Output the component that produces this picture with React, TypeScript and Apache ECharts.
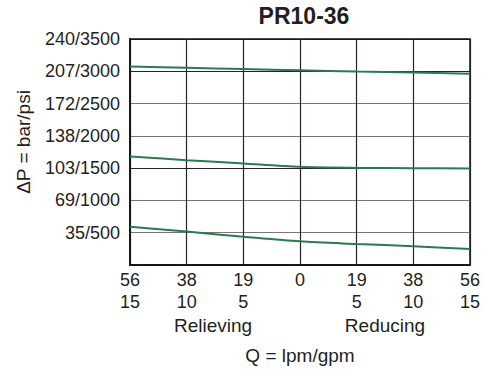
import React, { useEffect, useRef } from "react";
import * as echarts from "echarts";

const gpmTicks = [-15, -10, -5, 0, 5, 10, 15];
const lpmLabels = ["56", "38", "19", "0", "19", "38", "56"];
const gpmLabels = ["15", "10", "5", "", "5", "10", "15"];
const psiTicks = [0, 500, 1000, 1500, 2000, 2500, 3000, 3500];
const barLabels = ["", "35", "69", "103", "138", "172", "207", "240"];

const highSetting = [3075, 3055, 3035, 3015, 2995, 2980, 2962];
const midSetting = [1680, 1624, 1571, 1520, 1504, 1500, 1494];
const lowSetting = [594, 517, 439, 367, 326, 290, 248];

const FONT = "'Liberation Sans', Arial, Helvetica, sans-serif";
const GREEN = "#2b7a50";
const INK = "#231f20";

export default function App() {
  const ref = useRef<HTMLDivElement>(null);
  useEffect(() => {
    if (!ref.current) return;
    const chart = echarts.init(ref.current, null, { renderer: "svg" });
    const mk = (vals: number[]) => gpmTicks.map((x, i) => [x, vals[i]]);
    const series = [highSetting, midSetting, lowSetting].map((v) => ({
      type: "line",
      data: mk(v),
      smooth: 0.3,
      showSymbol: false,
      lineStyle: { color: GREEN, width: 2 },
    }));
    const txt = (text: string, x: number, y: number, size: number, extra: any = {}) => ({
      type: "text",
      x,
      y,
      ...extra,
      style: {
        text,
        font: `${extra.bold ? "bold " : ""}${size}px ${FONT}`,
        fill: INK,
        textAlign: "center",
        textVerticalAlign: "middle",
      },
    });
    chart.setOption({
      animation: false,
      textStyle: { fontFamily: FONT },
      grid: {
        left: 130,
        right: 12,
        top: 39,
        bottom: 104,
        show: true,
        borderColor: "#1a1414",
        borderWidth: 1.5,
      },
      xAxis: {
        type: "value",
        min: -15,
        max: 15,
        interval: 5,
        axisLine: { show: true, onZero: false, lineStyle: { color: "#1a1414", width: 2 } },
        axisTick: { show: false },
        splitLine: { show: true, lineStyle: { color: "#2a2222", width: 1.2 } },
        axisLabel: {
          color: INK,
          fontFamily: FONT,
          fontSize: 18,
          lineHeight: 22,
          margin: 4,
          formatter: (v: number) => {
            const i = gpmTicks.indexOf(v);
            if (i < 0) return "";
            return lpmLabels[i] + "\n" + (gpmLabels[i] || " ");
          },
        },
      },
      yAxis: {
        type: "value",
        min: 0,
        max: 3500,
        interval: 500,
        axisLine: { show: true, onZero: false, lineStyle: { color: "#1a1414", width: 2 } },
        axisTick: { show: false },
        splitLine: {
          show: true,
          lineStyle: {
            color: ["#1a1414", "#7a7575", "#7a7575", "#2a2222", "#7a7575", "#7a7575", "#2a2222", "#1a1414"],
            width: 1.2,
          },
        },
        axisLabel: {
          color: INK,
          fontFamily: FONT,
          fontSize: 18,
          margin: 10,
          formatter: (v: number) => {
            const i = psiTicks.indexOf(v);
            if (i <= 0) return "";
            return barLabels[i] + "/" + v;
          },
        },
      },
      graphic: [
        txt("PR10-36", 304, 16, 23, { bold: true }),
        txt("Relieving", 213, 325, 19),
        txt("Reducing", 385, 325, 19),
        txt("Q = lpm/gpm", 300, 355, 19),
        txt("ΔP = bar/psi", 23, 142, 19, { rotation: Math.PI / 2 }),
      ],
      series,
    });
    return () => chart.dispose();
  }, []);
  return (
    <div
      ref={ref}
      style={{ position: "fixed", left: 0, top: 0, width: 483, height: 369, background: "#fff" }}
    />
  );
}
